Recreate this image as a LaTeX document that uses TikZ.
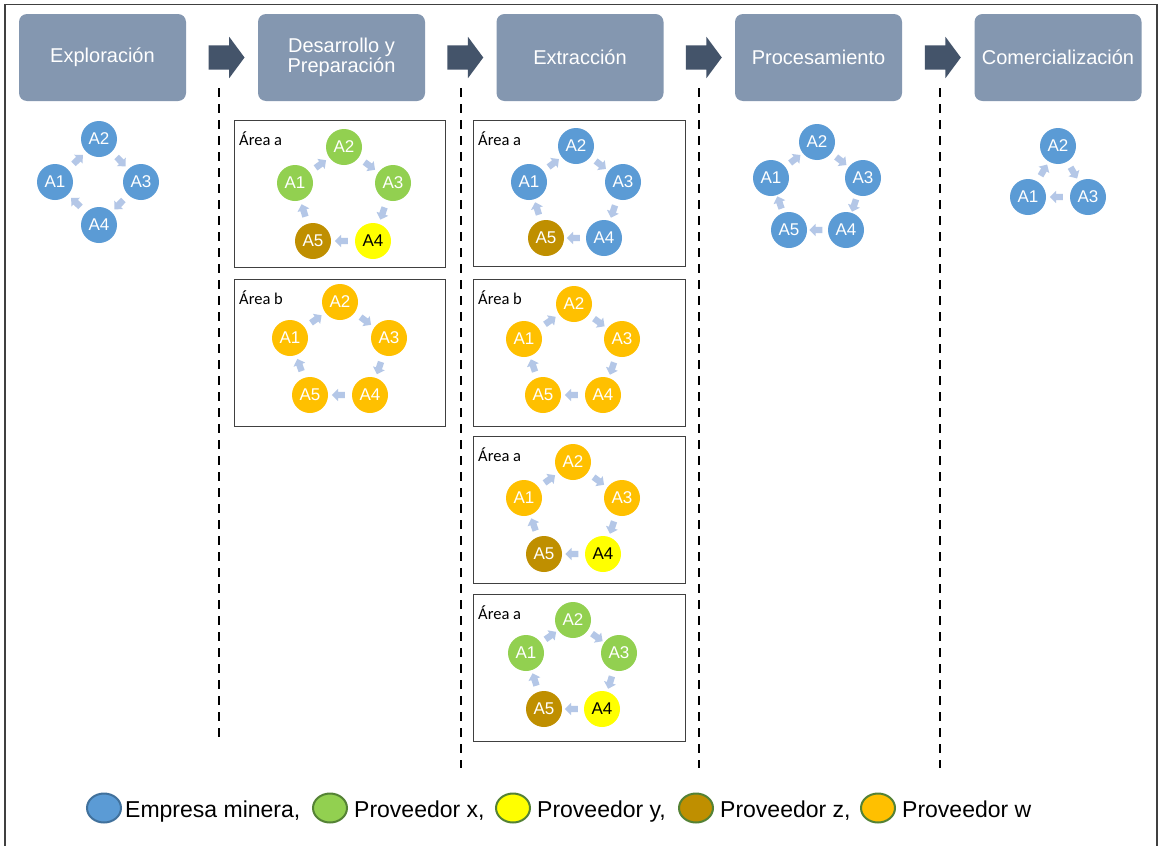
\documentclass[tikz,border=0pt]{standalone}
\usepackage{fontspec}
\setmainfont{Liberation Sans}
\newfontfamily\calfont{Carlito}
\usetikzlibrary{shapes.geometric,shapes.arrows,calc}
\definecolor{hdr}{RGB}{132,151,176}
\definecolor{hdark}{RGB}{68,84,106}
\definecolor{cblue}{RGB}{91,155,213}
\definecolor{cgreen}{RGB}{146,208,80}
\definecolor{cyellow}{RGB}{255,255,0}
\definecolor{cbrown}{RGB}{191,143,0}
\definecolor{corange}{RGB}{255,192,0}
\definecolor{carr}{RGB}{180,199,231}
\definecolor{bdblue}{RGB}{65,113,156}
\definecolor{bdgreen}{RGB}{84,130,53}
\newcommand\cycarr[2]{\path let \p1=($(#2)-(#1)$), \n1={atan2(\y1,\x1)} in node[smallarr, rotate=\n1] (#1#2) at ($(#1)!0.5!(#2)$) {};}
\begin{document}
\begin{tikzpicture}[x=1pt,y=-1pt,
 hbox/.style={rectangle, rounded corners=8pt, fill=hdr, minimum width=167, minimum height=87, text=white, font=\fontsize{20}{20.5}\selectfont, align=center, inner sep=0},
 bigarr/.style={single arrow, fill=hdark, minimum height=36, inner xsep=0, inner ysep=12, single arrow head extend=8.5, single arrow tip angle=107},
 sepline/.style={draw=black, line width=2, dash pattern=on 9pt off 7pt},
 panel/.style={draw=black!75, line width=1.2, fill=white, inner sep=0, anchor=north west},
 circ/.style={circle, minimum size=36, inner sep=0, text=white, font=\fontsize{17}{17}\selectfont},
 bl/.style={circ, fill=cblue},
 gr/.style={circ, fill=cgreen},
 ye/.style={circ, fill=cyellow, text=black},
 br/.style={circ, fill=cbrown},
 orr/.style={circ, fill=corange},
 smallarr/.style={single arrow, fill=carr, minimum height=13, inner xsep=0, inner ysep=3, single arrow head extend=3},
 lbl/.style={anchor=base west, font=\calfont\fontsize{16.5}{17}\selectfont, inner sep=0},
 leg/.style={ellipse, minimum width=34, minimum height=29, line width=2, inner sep=0},
 legt/.style={anchor=base west, font=\fontsize{23}{23}\selectfont, inner sep=0}]
\useasboundingbox[fill=white] (0,0) rectangle (1162,846);
% outer frame
\draw[black!75, line width=1.5] (5,850) -- (5,4.5) -- (1157,4.5) -- (1157,850);
% headers
\node[hbox] (h1) at (102.5,57.5) {Exploración};
\node[hbox] (h2) at (341.5,57.5) {Desarrollo y\\Preparación};
\node[hbox] (h3) at (580,57.5) {Extracción};
\node[hbox] (h4) at (818.5,57.5) {Procesamiento};
\node[hbox] (h5) at (1058,57.5) {Comercialización};
\node[bigarr] (ar1) at ($(h1.east)!0.5!(h2.west)$) {};
\node[bigarr] (ar2) at ($(h2.east)!0.5!(h3.west)$) {};
\node[bigarr] (ar3) at ($(h3.east)!0.5!(h4.west)$) {};
\node[bigarr] (ar4) at ($(h4.east)!0.5!(h5.west)$) {};
% separators
\draw[sepline] (219,88) -- (219,743);
\draw[sepline] (461,88) -- (461,768);
\draw[sepline] (699,88) -- (699,768);
\draw[sepline] (940,88) -- (940,768);
% panels
\node[panel, minimum width=211, minimum height=147] (pda) at (234,120) {};
\node[panel, minimum width=211, minimum height=147] (pdb) at (234,279) {};
\node[panel, minimum width=212, minimum height=146] (pea) at (473,120) {};
\node[panel, minimum width=212, minimum height=147] (peb) at (473,279) {};
\node[panel, minimum width=212, minimum height=147] (pec) at (473,436) {};
\node[panel, minimum width=212, minimum height=147] (ped) at (473,594) {};
\node[lbl] (lda) at ([shift={(5,25)}]pda.north west) {Área a};
\node[lbl] (ldb) at ([shift={(5,25)}]pdb.north west) {Área b};
\node[lbl] (lea) at ([shift={(5,25)}]pea.north west) {Área a};
\node[lbl] (leb) at ([shift={(5,25)}]peb.north west) {Área b};
\node[lbl] (lec) at ([shift={(5,25)}]pec.north west) {Área a};
\node[lbl] (led) at ([shift={(5,25)}]ped.north west) {Área a};
% Exploracion
\node[bl] (x1) at (55,182) {A1};
\node[bl] (x2) at (99,139) {A2};
\node[bl] (x3) at (141,182) {A3};
\node[bl] (x4) at (99,225) {A4};
\cycarr{x1}{x2}\cycarr{x2}{x3}\cycarr{x3}{x4}\cycarr{x4}{x1}
% Desarrollo a
\node[gr] (da1) at (295,183) {A1};
\node[gr] (da2) at (344,147) {A2};
\node[gr] (da3) at (393,183) {A3};
\node[ye] (da4) at (373,241) {A4};
\node[br] (da5) at (313,241) {A5};
\cycarr{da1}{da2}\cycarr{da2}{da3}\cycarr{da3}{da4}\cycarr{da4}{da5}\cycarr{da5}{da1}
% Desarrollo b
\node[orr] (db1) at (290,338) {A1};
\node[orr] (db2) at (340,302) {A2};
\node[orr] (db3) at (389,338) {A3};
\node[orr] (db4) at (370,395) {A4};
\node[orr] (db5) at (310,395) {A5};
\cycarr{db1}{db2}\cycarr{db2}{db3}\cycarr{db3}{db4}\cycarr{db4}{db5}\cycarr{db5}{db1}
% Extraccion a
\node[bl] (ea1) at (529,182) {A1};
\node[bl] (ea2) at (576,146) {A2};
\node[bl] (ea3) at (623,182) {A3};
\node[bl] (ea4) at (604,238) {A4};
\node[br] (ea5) at (546,238) {A5};
\cycarr{ea1}{ea2}\cycarr{ea2}{ea3}\cycarr{ea3}{ea4}\cycarr{ea4}{ea5}\cycarr{ea5}{ea1}
% Extraccion b
\node[orr] (eb1) at (524,339) {A1};
\node[orr] (eb2) at (574,304) {A2};
\node[orr] (eb3) at (622,339) {A3};
\node[orr] (eb4) at (603,395) {A4};
\node[orr] (eb5) at (543,395) {A5};
\cycarr{eb1}{eb2}\cycarr{eb2}{eb3}\cycarr{eb3}{eb4}\cycarr{eb4}{eb5}\cycarr{eb5}{eb1}
% Extraccion c
\node[orr] (ec1) at (524,498) {A1};
\node[orr] (ec2) at (573,462) {A2};
\node[orr] (ec3) at (622,498) {A3};
\node[ye] (ec4) at (603,554) {A4};
\node[br] (ec5) at (544,554) {A5};
\cycarr{ec1}{ec2}\cycarr{ec2}{ec3}\cycarr{ec3}{ec4}\cycarr{ec4}{ec5}\cycarr{ec5}{ec1}
% Extraccion d
\node[gr] (ed1) at (526,653) {A1};
\node[gr] (ed2) at (573,620) {A2};
\node[gr] (ed3) at (619,653) {A3};
\node[ye] (ed4) at (602,709) {A4};
\node[br] (ed5) at (544,709) {A5};
\cycarr{ed1}{ed2}\cycarr{ed2}{ed3}\cycarr{ed3}{ed4}\cycarr{ed4}{ed5}\cycarr{ed5}{ed1}
% Procesamiento
\node[bl] (p1) at (771,178) {A1};
\node[bl] (p2) at (817,142) {A2};
\node[bl] (p3) at (863,178) {A3};
\node[bl] (p4) at (846,230) {A4};
\node[bl] (p5) at (789,230) {A5};
\cycarr{p1}{p2}\cycarr{p2}{p3}\cycarr{p3}{p4}\cycarr{p4}{p5}\cycarr{p5}{p1}
% Comercializacion
\node[bl] (c1) at (1028,197) {A1};
\node[bl] (c2) at (1058,146) {A2};
\node[bl] (c3) at (1088,197) {A3};
\cycarr{c1}{c2}\cycarr{c2}{c3}\cycarr{c3}{c1}
% legend
\node[leg, fill=cblue, draw=bdblue] (g1) at (104,808) {};
\node[legt] (t1) at (125,817) {Empresa minera,};
\node[leg, fill=cgreen, draw=bdgreen] (g2) at (330,808) {};
\node[legt] (t2) at (354,817) {Proveedor x,};
\node[leg, fill=cyellow, draw=bdgreen] (g3) at (513,808) {};
\node[legt] (t3) at (537,817) {Proveedor y,};
\node[leg, fill=cbrown, draw=bdgreen] (g4) at (696,808) {};
\node[legt] (t4) at (720,817) {Proveedor z,};
\node[leg, fill=corange, draw=bdgreen] (g5) at (878,808) {};
\node[legt] (t5) at (902,817) {Proveedor w};
\end{tikzpicture}
\end{document}
